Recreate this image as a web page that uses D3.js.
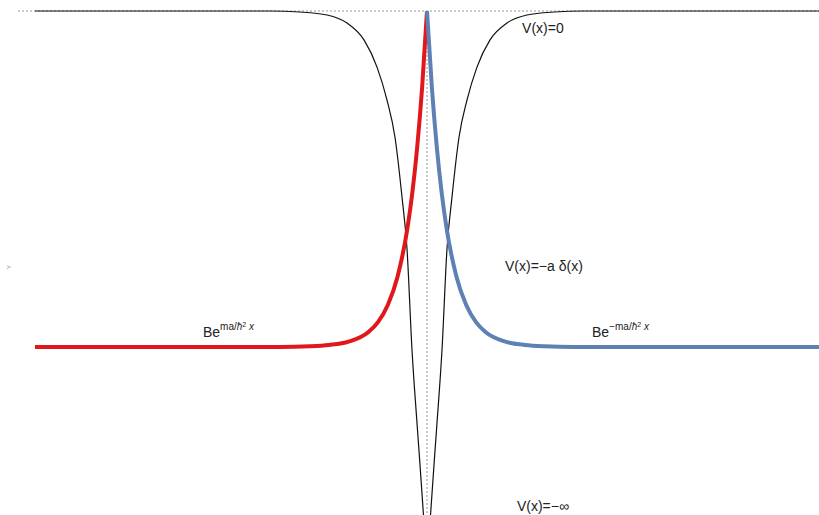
<!DOCTYPE html>
<html>
<head>
<meta charset="utf-8">
<script src="https://cdnjs.cloudflare.com/ajax/libs/d3/7.8.5/d3.min.js"></script>
<style>
  body { margin: 0; background: #fff; }
  text { font-family: "Liberation Sans", Arial, sans-serif; fill: #222; }
</style>
</head>
<body>
<div id="chart"></div>
<script>
// potential V(x) (symmetric well, bottom runs off the chart)
var potX = [-4, -1.6, -1.3, -1.02, -0.816, -0.643, -0.51, -0.408, -0.327, -0.255, -0.204, -0.153, -0.097, -0.036, 0,
            0.036, 0.097, 0.153, 0.204, 0.255, 0.327, 0.408, 0.51, 0.643, 0.816, 1.02, 1.3, 1.6, 4];
var potY = [0, 0, -0.003, -0.012, -0.036, -0.086, -0.167, -0.265, -0.375, -0.554, -0.708, -1.009, -1.247, -1.5, -1.68,
            -1.5, -1.247, -1.009, -0.708, -0.554, -0.375, -0.265, -0.167, -0.086, -0.036, -0.012, -0.003, 0, 0];

// left branch (red)
var redX = [-4, -2, -1.5, -1.2, -1.0, -0.8, -0.6, -0.5, -0.4, -0.3, -0.2, -0.15, -0.1, -0.05, 0];
var redY = [-1, -1, -1.0, -0.998, -0.994, -0.984, -0.956, -0.926, -0.875, -0.79, -0.647, -0.542, -0.405, -0.229, 0];

// right branch (blue)
var blueX = [0, 0.05, 0.1, 0.15, 0.2, 0.3, 0.4, 0.5, 0.6, 0.8, 1.0, 1.2, 1.5, 2, 4];
var blueY = [0, -0.229, -0.405, -0.542, -0.647, -0.79, -0.875, -0.926, -0.956, -0.984, -0.994, -0.998, -1.0, -1, -1];

var w = 819, h = 515;
var svg = d3.select("#chart").append("svg")
    .attr("width", w)
    .attr("height", h);

var x = d3.scaleLinear().domain([-4, 4]).range([35, 819]);
var y = d3.scaleLinear().domain([-1, 0]).range([347, 11]);

svg.append("clipPath").attr("id", "clip")
  .append("rect").attr("x", 0).attr("y", 0).attr("width", w).attr("height", h);

// dotted axes through the origin
svg.append("line")
    .attr("x1", 18).attr("x2", w)
    .attr("y1", y(0)).attr("y2", y(0))
    .attr("stroke", "#999").attr("stroke-width", 1).attr("stroke-dasharray", "2,2");
svg.append("line")
    .attr("x1", x(0)).attr("x2", x(0))
    .attr("y1", y(0)).attr("y2", h)
    .attr("stroke", "#999").attr("stroke-width", 1).attr("stroke-dasharray", "2,2");

svg.append("text")
    .attr("transform", "translate(11,267) rotate(-90)")
    .attr("text-anchor", "middle")
    .style("font-size", "6px")
    .style("fill", "#888")
    .text("Y");

function pts(xs, ys) {
  return xs.map(function(d, i) { return [d, ys[i]]; });
}
var line = d3.line()
    .x(function(d) { return x(d[0]); })
    .y(function(d) { return y(d[1]); })
    .curve(d3.curveMonotoneX);

var g = svg.append("g").attr("clip-path", "url(#clip)");

g.append("path")
    .datum(pts(potX, potY))
    .attr("d", line)
    .attr("fill", "none")
    .attr("stroke", "#111")
    .attr("stroke-width", 1.2);

g.append("path")
    .datum(pts(redX, redY))
    .attr("d", line)
    .attr("fill", "none")
    .attr("stroke", "#e0181c")
    .attr("stroke-width", 4);

g.append("path")
    .datum(pts(blueX, blueY))
    .attr("d", line)
    .attr("fill", "none")
    .attr("stroke", "#5e81b5")
    .attr("stroke-width", 4);

// labels
var labels = [
  { t: "V(x)=0", x: 0.97, y: -0.066 },
  { t: "V(x)=\u2212a \u03b4(x)", x: 0.796, y: -0.774 },
  { t: "V(x)=\u2212\u221e", x: 0.918, y: -1.488 }
];
labels.forEach(function(l) {
  svg.append("text")
      .attr("x", x(l.x)).attr("y", y(l.y))
      .style("font-size", "14px")
      .text(l.t);
});

var waveLabels = [
  { sign: "", x: -2.286, y: -0.97 },
  { sign: "\u2212", x: 1.684, y: -0.97 }
];
waveLabels.forEach(function(l) {
  var t = svg.append("text")
      .attr("x", x(l.x)).attr("y", y(l.y))
      .style("font-size", "14px");
  t.append("tspan").text("Be");
  t.append("tspan").attr("dy", -7).style("font-size", "10px").text(l.sign + "ma/");
  t.append("tspan").style("font-size", "10px").style("font-style", "italic").text("\u0127");
  t.append("tspan").attr("dy", -3).style("font-size", "7px").text("2");
  t.append("tspan").attr("dy", 3).style("font-size", "10px").style("font-style", "italic").text(" x");
});
</script>
</body>
</html>
